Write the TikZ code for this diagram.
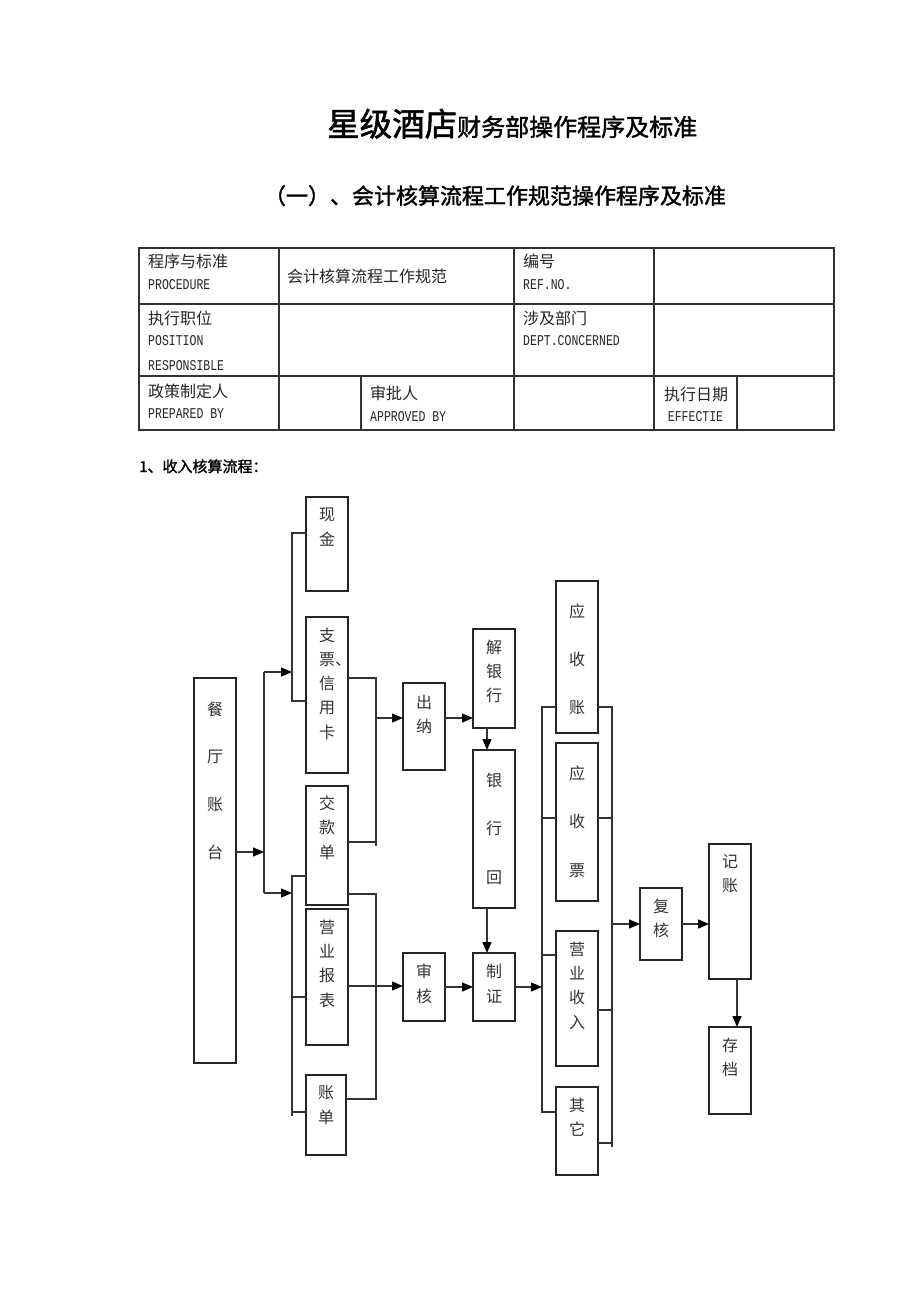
\documentclass[tikz,border=0pt]{standalone}
\usepackage{fontspec}
\usepackage{graphicx}
\setmainfont{Noto Sans CJK SC}
\newfontfamily\enm{Liberation Mono}
\newfontfamily\cjkfb[FakeBold=1.6]{Noto Sans CJK SC}
\usetikzlibrary{arrows.meta}
\newcommand\fs[2]{\fontsize{#1}{#2}\selectfont}
\newcommand\lat[1]{{\enm\fontsize{11.5}{12}\selectfont\scalebox{1}[1.3]{#1}}}
\newcommand\bx[8]{%
  \node[bxs, minimum width={(#4-#2)*1pt}, minimum height={(#5-#3)*1pt}] (#1) at ({(#2+#4)/2},{(#3+#5)/2}) {};
  \node[bt, font=\fs{16}{#7}, anchor=north] (#1-t) at ({(#2+#4)/2},{#6-7.5}) {#8};
}
\begin{document}
\begin{tikzpicture}[x=1pt,y=-1pt,
  ln/.style={draw=black!80, line width=1.3pt},
  tbl/.style={draw=black!80, line width=1.1pt},
  bxs/.style={draw=black!85, line width=1.3pt, inner sep=0pt, outer sep=0pt},
  arr/.style={ln, -{Triangle[length=11pt,width=9pt,fill=black,color=black]}},
  bt/.style={inner sep=0pt, align=center, text=black!80},
  cj/.style={inner sep=0pt, text=black!85, font=\fs{16}{18}, anchor=base west},
  en/.style={inner sep=0pt, text=black!85, anchor=base west}]
\fill[white] (0,0) rectangle (920,1302);
\useasboundingbox (0,0) rectangle (920,1302);

% titles
\node[inner sep=0pt, anchor=base west] (title) at (327,136)
  {\cjkfb{\fs{32.5}{36}星级酒店}{\fs{24}{28}财务部操作程序及标准}};
\node[inner sep=0pt, anchor=base, font=\cjkfb\fs{22}{26}] (subtitle) at (495,204)
  {（一）、会计核算流程工作规范操作程序及标准};

% table
\draw[tbl] (139,248) rectangle (834,430);
\draw[tbl] (139,304) -- (834,304);
\draw[tbl] (139,376) -- (834,376);
\draw[tbl] (279,248) -- (279,430);
\draw[tbl] (514,248) -- (514,430);
\draw[tbl] (654,248) -- (654,430);
\draw[tbl] (361,376) -- (361,430);
\draw[tbl] (737,376) -- (737,430);

\node[cj] (t1) at (148,267) {程序与标准};
\node[en] (t2) at (148,289.5) {\lat{PROCEDURE}};
\node[cj] (t3) at (287,282) {会计核算流程工作规范};
\node[cj] (t4) at (523,267) {编号};
\node[en] (t5) at (523,289.5) {\lat{REF.NO.}};
\node[cj] (t6) at (148,324.5) {执行职位};
\node[en] (t7) at (148,345.5) {\lat{POSITION}};
\node[en] (t8) at (148,370) {\lat{RESPONSIBLE}};
\node[cj] (t9) at (523,324.5) {涉及部门};
\node[en] (t10) at (523,345.5) {\lat{DEPT.CONCERNED}};
\node[cj] (t11) at (148,397.5) {政策制定人};
\node[en] (t12) at (148,418) {\lat{PREPARED BY}};
\node[cj] (t13) at (370,399) {审批人};
\node[en] (t14) at (370,421.5) {\lat{APPROVED BY}};
\node[cj, anchor=base] (t15) at (696,400) {执行日期};
\node[en, anchor=base] (t16) at (695.5,421.5) {\lat{EFFECTIE}};

\node[inner sep=0pt, anchor=base west, font=\cjkfb\fs{15}{18}] (sec) at (139,472) {1、收入核算流程：};

% boxes
\bx{cant}{194}{678}{236}{1063}{709}{47.7}{餐\\厅\\账\\台}
\bx{xj}{306}{497}{348}{591}{515}{25}{现\\金}
\bx{zp}{306}{617}{348}{773}{635}{24.25}{支\\票\rlap{、}\\信\\用\\卡}
\bx{jk}{306}{786}{348}{905}{803}{24.5}{交\\款\\单}
\bx{yb}{306}{909}{348}{1045}{927}{24.3}{营\\业\\报\\表}
\bx{zd}{306}{1075}{346}{1155}{1093}{25}{账\\单}
\bx{cn}{403}{683}{445}{770}{702}{24}{出\\纳}
\bx{jy}{473}{629}{515}{728}{647}{24}{解\\银\\行}
\bx{yh}{473}{750}{515}{908}{780}{48.5}{银\\行\\回}
\bx{sh}{403}{953}{445}{1021}{971}{25}{审\\核}
\bx{zz}{473}{953}{515}{1021}{971}{25}{制\\证}
\bx{ys1}{556}{581}{598}{733}{611}{48}{应\\收\\账}
\bx{ys2}{556}{743}{598}{901}{773}{48.5}{应\\收\\票}
\bx{ysr}{556}{931}{598}{1066}{949}{24.3}{营\\业\\收\\入}
\bx{qt}{556}{1087}{598}{1175}{1105}{24}{其\\它}
\bx{fh}{640}{888}{682}{960}{906}{24}{复\\核}
\bx{jz}{709}{844}{751}{979}{862}{24}{记\\账}
\bx{cd}{709}{1027}{751}{1114}{1045}{24}{存\\档}

% connectors
\coordinate (A1) at (264,672);
\coordinate (A2) at (264,893);
\coordinate (Am) at (264,852);
\draw[ln] (A1) -- (A2);
\draw[arr] (cant.east |- Am) -- (Am);

\coordinate (B1) at (292,533);
\coordinate (B2) at (292,701);
\draw[arr] (A1) -- (A1 -| B1);
\draw[ln] (xj.west |- B1) -- (B1) -- (B2) -- (zp.west |- B2);

\coordinate (C1) at (292,876);
\coordinate (C2) at (292,1116);
\coordinate (Cy) at (292,997);
\coordinate (Cz) at (292,1112);
\draw[arr] (A2) -- (A2 -| C1);
\draw[ln] (jk.west |- C1) -- (C1) -- (C2);
\draw[ln] (Cy) -- (yb.west |- Cy);
\draw[ln] (Cz) -- (zd.west |- Cz);

\coordinate (D1) at (376,678);
\coordinate (D2) at (376,846);
\coordinate (Dj) at (376,842);
\coordinate (Dm) at (376,718);
\draw[ln] (zp.east |- D1) -- (D1) -- (D2);
\draw[ln] (jk.east |- Dj) -- (Dj);
\draw[arr] (Dm) -- (cn.west |- Dm);

\coordinate (E1) at (376,894);
\coordinate (E2) at (376,1100);
\coordinate (Em) at (376,986);
\coordinate (Ez) at (376,1099);
\draw[ln] (jk.east |- E1) -- (E1) -- (E2);
\draw[arr] (yb.east |- Em) -- (sh.west |- Em);
\draw[ln] (zd.east |- Ez) -- (Ez);

\draw[arr] (cn.east |- Dm) -- (jy.west |- Dm);
\coordinate (V) at (487,0);
\draw[arr] (jy.south -| V) -- (yh.north -| V);
\draw[arr] (yh.south -| V) -- (zz.north -| V);
\draw[arr] (sh.east) -- (zz.west);

\coordinate (F1) at (542,707);
\coordinate (F2) at (542,1112);
\coordinate (F3) at (542,818);
\coordinate (F4) at (542,955);
\draw[ln] (ys1.west |- F1) -- (F1) -- (F2) -- (qt.west |- F2);
\draw[ln] (F3) -- (ys2.west |- F3);
\draw[ln] (F4) -- (ysr.west |- F4);
\draw[arr] (zz.east) -- (zz.east -| F1);

\coordinate (G1) at (612,707);
\coordinate (G2) at (612,1147);
\coordinate (G3) at (612,818);
\coordinate (G4) at (612,1010);
\coordinate (G5) at (612,1143);
\coordinate (Gm) at (612,924);
\draw[ln] (ys1.east |- G1) -- (G1) -- (G2);
\draw[ln] (ys2.east |- G3) -- (G3);
\draw[ln] (ysr.east |- G4) -- (G4);
\draw[ln] (qt.east |- G5) -- (G5);
\draw[arr] (Gm) -- (fh.west |- Gm);
\draw[arr] (fh.east) -- (jz.west |- fh.east);
\coordinate (W) at (737,0);
\draw[arr] (jz.south -| W) -- (cd.north -| W);
\end{tikzpicture}
\end{document}
